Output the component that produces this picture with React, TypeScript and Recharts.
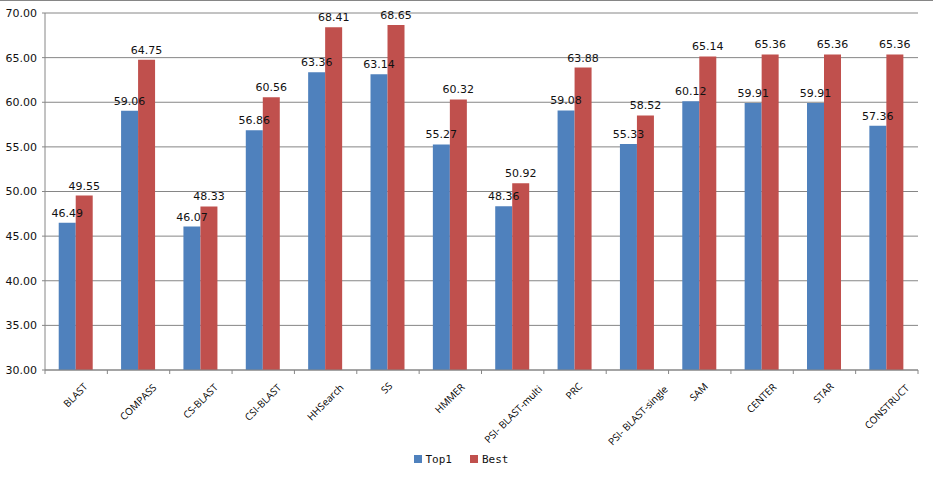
import React from 'react'
import { BarChart, Bar, XAxis, YAxis, CartesianGrid, Legend, LabelList } from 'recharts'

// ─── Data ────────────────────────────────────────────────────────────────────
const METHODS = [
  'BLAST', 'COMPASS', 'CS-BLAST', 'CSI-BLAST', 'HHSearch', 'SS', 'HMMER',
  'PSI- BLAST-multi', 'PRC', 'PSI- BLAST-single', 'SAM', 'CENTER', 'STAR', 'CONSTRUCT',
]
const TOP1 = [46.49, 59.06, 46.07, 56.86, 63.36, 63.14, 55.27, 48.36, 59.08, 55.33, 60.12, 59.91, 59.91, 57.36]
const BEST = [49.55, 64.75, 48.33, 60.56, 68.41, 68.65, 60.32, 50.92, 63.88, 58.52, 65.14, 65.36, 65.36, 65.36]
const Y_TICKS = [30, 35, 40, 45, 50, 55, 60, 65, 70]

const data = METHODS.map((name, i) => ({ name, top1: TOP1[i], best: BEST[i] }))

// ─── Styling ─────────────────────────────────────────────────────────────────
const COLORS = { top1: '#4f81bd', best: '#c0504d' }
const GRID = '#868686'
const W = 933
const H = 477
const MARGIN = { top: 12, right: 15, left: 0, bottom: 0 }
const Y_WIDTH = 45
const BAND = (W - MARGIN.right - Y_WIDTH) / METHODS.length
const CAT_FONT = "10px 'Open Sans'"

// rough text width, used to shift long rotated labels to the right like Excel does
let measureCtx: CanvasRenderingContext2D | null = null
function textWidth(s: string) {
  if (!measureCtx) measureCtx = document.createElement('canvas').getContext('2d')
  if (!measureCtx) return s.length * 6
  measureCtx.font = CAT_FONT
  return measureCtx.measureText(s).width
}

// rotated category label + tick marks on the band edges
function CategoryTick(props: any) {
  const { x, y, payload, index } = props
  const left = x - BAND / 2
  const w = textWidth(String(payload.value))
  const ax = x + 0.38 * w + 1
  const ay = y + 16 + 0.05 * w
  return (
    <g>
      <line x1={left} y1={y} x2={left} y2={y + 4} stroke={GRID} />
      {index === METHODS.length - 1 && <line x1={x + BAND / 2} y1={y} x2={x + BAND / 2} y2={y + 4} stroke={GRID} />}
      <text
        x={ax}
        y={ay}
        transform={`rotate(-45, ${ax}, ${ay})`}
        textAnchor="end"
        fontFamily="'Open Sans', sans-serif"
        fontSize={10}
        style={{ fill: '#000' }}
      >
        {payload.value}
      </text>
    </g>
  )
}

// legend in series order: Top1, Best
function SeriesLegend() {
  const items = [
    { label: 'Top1', color: COLORS.top1 },
    { label: 'Best', color: COLORS.best },
  ]
  return (
    <div style={{ display: 'flex', justifyContent: 'center', gap: 18, fontFamily: "'DejaVu Sans Mono', monospace", fontSize: 11, color: '#111', paddingLeft: 4 }}>
      {items.map((it) => (
        <span key={it.label} style={{ display: 'inline-flex', alignItems: 'center' }}>
          <span style={{ display: 'inline-block', width: 8, height: 8, background: it.color, marginRight: 4, marginTop: -3 }} />
          {it.label}
        </span>
      ))}
    </div>
  )
}

const labelStyle = { fontFamily: "'DejaVu Sans', sans-serif", fontSize: 11, fill: '#111' }

export default function App() {
  return (
    <div style={{ position: 'absolute', left: 0, top: 0, width: W, height: H, background: '#fff', borderTop: `1px solid ${GRID}`, boxSizing: 'border-box' }}>
      <BarChart width={W} height={H - 1} data={data} margin={MARGIN} barCategoryGap="22%" barGap={0}>
        <CartesianGrid vertical={false} stroke={GRID} />
        <XAxis
          dataKey="name"
          interval={0}
          tick={<CategoryTick />}
          tickLine={false}
          tickSize={0}
          tickMargin={0}
          height={78}
          axisLine={{ stroke: GRID }}
        />
        <YAxis
          domain={[30, 70]}
          ticks={Y_TICKS}
          tickFormatter={(v: number) => v.toFixed(2)}
          width={Y_WIDTH}
          tickSize={3}
          tickMargin={5}
          tickLine={{ stroke: GRID }}
          axisLine={{ stroke: GRID }}
          tick={{ fontFamily: "'DejaVu Sans', sans-serif", fontSize: 11, fill: '#111' }}
          allowDataOverflow
        />
        <Legend verticalAlign="bottom" height={29} content={<SeriesLegend />} wrapperStyle={{ lineHeight: '24px' }} />
        <Bar dataKey="top1" name="Top1" fill={COLORS.top1} isAnimationActive={false}>
          <LabelList dataKey="top1" position="top" offset={6} formatter={(v: number) => v.toFixed(2)} style={labelStyle} />
        </Bar>
        <Bar dataKey="best" name="Best" fill={COLORS.best} isAnimationActive={false}>
          <LabelList dataKey="best" position="top" offset={6} formatter={(v: number) => v.toFixed(2)} style={labelStyle} />
        </Bar>
      </BarChart>
    </div>
  )
}
